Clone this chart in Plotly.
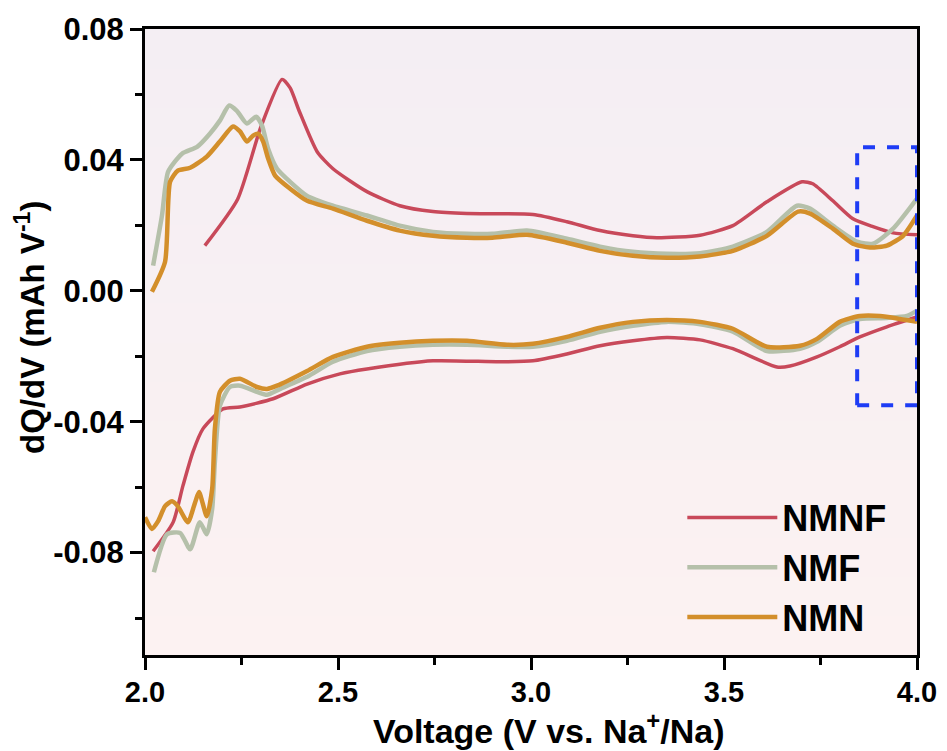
import plotly.graph_objects as go

# ---- data ----
nmnf_chg_v = [2.155, 2.24, 2.30, 2.355, 2.376, 2.40, 2.446, 2.487, 2.575, 2.66, 2.746, 2.834, 3.005, 3.093, 3.179, 3.264, 3.326, 3.438, 3.523, 3.611, 3.702, 3.73, 3.782, 3.834, 3.886, 3.938, 4.0]
nmnf_chg_q = [0.0138, 0.028, 0.050, 0.0646, 0.062, 0.0548, 0.0425, 0.0373, 0.0303, 0.026, 0.0242, 0.0236, 0.0233, 0.0211, 0.0184, 0.0168, 0.0162, 0.0170, 0.0199, 0.0272, 0.0333, 0.0327, 0.0275, 0.022, 0.0196, 0.0177, 0.0171]
nmnf_dis_v = [2.021, 2.073, 2.098, 2.124, 2.15, 2.202, 2.246, 2.332, 2.42, 2.505, 2.575, 2.746, 2.92, 3.005, 3.093, 3.179, 3.264, 3.352, 3.438, 3.523, 3.637, 3.671, 3.741, 3.80, 3.852, 3.922, 4.0]
nmnf_dis_q = [-0.0796, -0.0707, -0.0597, -0.0493, -0.0422, -0.0361, -0.0355, -0.033, -0.0285, -0.0254, -0.0239, -0.0214, -0.0217, -0.0214, -0.0193, -0.0168, -0.0153, -0.0143, -0.0150, -0.0177, -0.0233, -0.023, -0.0202, -0.0171, -0.0141, -0.011, -0.008]

nmf_chg_v = [2.021, 2.044, 2.06, 2.096, 2.135, 2.168, 2.194, 2.218, 2.238, 2.264, 2.288, 2.303, 2.319, 2.342, 2.376, 2.42, 2.487, 2.575, 2.66, 2.746, 2.834, 2.90, 2.99, 3.093, 3.179, 3.264, 3.352, 3.438, 3.523, 3.611, 3.689, 3.723, 3.782, 3.845, 3.886, 3.938, 4.0]
nmf_chg_q = [0.0077, 0.023, 0.0364, 0.0419, 0.044, 0.048, 0.052, 0.0566, 0.055, 0.0511, 0.0532, 0.0505, 0.0434, 0.0373, 0.0333, 0.029, 0.026, 0.023, 0.0199, 0.018, 0.0174, 0.0174, 0.0184, 0.0159, 0.0135, 0.0119, 0.0113, 0.0115, 0.0135, 0.018, 0.026, 0.0251, 0.0199, 0.015, 0.0144, 0.019, 0.0282]
nmf_dis_v = [2.023, 2.057, 2.091, 2.117, 2.142, 2.16, 2.174, 2.181, 2.194, 2.22, 2.246, 2.29, 2.316, 2.35, 2.42, 2.487, 2.575, 2.66, 2.746, 2.834, 2.938, 3.005, 3.093, 3.179, 3.264, 3.352, 3.438, 3.523, 3.611, 3.697, 3.741, 3.80, 3.852, 3.922, 3.974, 4.0]
nmf_dis_q = [-0.086, -0.0744, -0.074, -0.079, -0.0707, -0.0744, -0.0667, -0.0523, -0.0352, -0.0294, -0.029, -0.0309, -0.0318, -0.030, -0.0263, -0.0217, -0.0184, -0.0171, -0.0165, -0.0165, -0.0171, -0.0171, -0.0153, -0.0125, -0.0107, -0.0095, -0.0102, -0.0125, -0.0184, -0.0177, -0.0156, -0.0107, -0.0086, -0.0083, -0.0077, -0.0061]

nmn_chg_v = [2.018, 2.052, 2.065, 2.085, 2.117, 2.16, 2.194, 2.228, 2.246, 2.264, 2.28, 2.293, 2.306, 2.319, 2.337, 2.376, 2.42, 2.487, 2.575, 2.66, 2.746, 2.834, 2.90, 2.99, 3.093, 3.179, 3.264, 3.352, 3.438, 3.523, 3.611, 3.692, 3.723, 3.782, 3.834, 3.878, 3.922, 3.964, 4.0]
nmn_chg_q = [-0.0003, 0.0089, 0.0333, 0.0367, 0.0376, 0.041, 0.0456, 0.0502, 0.0487, 0.0456, 0.0474, 0.048, 0.0456, 0.0404, 0.0352, 0.0312, 0.0275, 0.0251, 0.0214, 0.0184, 0.0168, 0.0162, 0.0162, 0.0171, 0.0147, 0.0122, 0.0107, 0.0101, 0.0105, 0.0122, 0.0168, 0.0242, 0.0236, 0.019, 0.0144, 0.0132, 0.0138, 0.0168, 0.023]
nmn_dis_v = [2.0, 2.018, 2.034, 2.052, 2.07, 2.085, 2.111, 2.13, 2.14, 2.16, 2.174, 2.181, 2.194, 2.22, 2.246, 2.29, 2.316, 2.342, 2.42, 2.487, 2.575, 2.66, 2.746, 2.834, 2.938, 3.005, 3.093, 3.179, 3.264, 3.352, 3.438, 3.523, 3.611, 3.697, 3.741, 3.80, 3.852, 3.904, 3.956, 4.0]
nmn_dis_q = [-0.0692, -0.0728, -0.0704, -0.0658, -0.0643, -0.0658, -0.0707, -0.0646, -0.0615, -0.0689, -0.0606, -0.0422, -0.0309, -0.0275, -0.0269, -0.0294, -0.030, -0.029, -0.0245, -0.0202, -0.0171, -0.0159, -0.0153, -0.0153, -0.0165, -0.0162, -0.0141, -0.0113, -0.0095, -0.0089, -0.0095, -0.0116, -0.0171, -0.0168, -0.0147, -0.0095, -0.0077, -0.0077, -0.0086, -0.0095]

series_names = ["NMNF", "NMF", "NMN"]
series_colors = ["#c8495a", "#b5c0aa", "#d38f2b"]
series_widths = [3.5, 4.5, 4.5]

box_x = [3.845, 4.0]
box_y = [-0.035, 0.0439]

x_range = [2.0, 4.0]
y_range = [-0.1113, 0.08]
x_ticks = [2.0, 2.5, 3.0, 3.5, 4.0]
y_ticks = [-0.08, -0.04, 0.00, 0.04, 0.08]
y_ticklabels = ["-0.08", "-0.04", "0.00", "0.04", "0.08"]

x_title = "<b>Voltage (V vs. Na<sup>+</sup>/Na)</b>"
y_title = "<b>dQ/dV (mAh V<sup>-1</sup>)</b>"

data = [
    (nmnf_chg_v, nmnf_chg_q, nmnf_dis_v, nmnf_dis_q),
    (nmf_chg_v, nmf_chg_q, nmf_dis_v, nmf_dis_q),
    (nmn_chg_v, nmn_chg_q, nmn_dis_v, nmn_dis_q),
]

fig = go.Figure()

# soft vertical background gradient of the plotting area
fig.add_trace(go.Heatmap(
    x=x_range, y=y_range, z=[[0, 0], [1, 1]],
    colorscale=[[0, "#fcf2f2"], [1, "#f4eef3"]],
    zsmooth="best", showscale=False, hoverinfo="skip", showlegend=False,
))

for (cv, cq, dv, dq), name, col, w in zip(data, series_names, series_colors, series_widths):
    fig.add_trace(go.Scatter(
        x=cv + [None] + dv, y=cq + [None] + dq,
        mode="lines", name=name,
        line=dict(color=col, width=w, shape="spline", smoothing=0.6),
        connectgaps=False,
    ))

fig.add_shape(type="rect", x0=box_x[0], x1=box_x[1], y0=box_y[0], y1=box_y[1],
              xref="x", yref="y", line=dict(color="#1e3cf5", width=4, dash="dash"))

font_family = "Arial, Liberation Sans, sans-serif"

fig.add_annotation(text=x_title, xref="paper", yref="paper", x=0.523, y=-0.118,
                   xanchor="center", yanchor="middle", showarrow=False,
                   font=dict(family=font_family, size=34, color="black"))
fig.add_annotation(text=y_title, xref="paper", yref="paper", x=-0.149, y=0.524,
                   xanchor="center", yanchor="middle", showarrow=False, textangle=-90,
                   font=dict(family=font_family, size=33, color="black"))

axis_common = dict(
    showline=True, linecolor="black", linewidth=3, mirror=True,
    ticks="outside", ticklen=12, tickwidth=3, tickcolor="black",
    showgrid=False, zeroline=False, automargin=False,
)

fig.update_layout(
    width=939, height=743,
    margin=dict(l=137, r=30, t=21, b=96),
    paper_bgcolor="white",
    plot_bgcolor="#f8f0f2",
    font=dict(family=font_family, color="black"),
    xaxis=dict(
        range=x_range, tickvals=x_ticks, tickformat=".1f", ticklabelstandoff=-3,
        tickfont=dict(family=font_family, size=29, color="black", weight="bold"),
        minor=dict(dtick=0.25, ticks="outside", ticklen=7, tickwidth=3, tickcolor="black"),
        **axis_common,
    ),
    yaxis=dict(
        range=y_range, tickvals=y_ticks, ticktext=y_ticklabels,
        tickfont=dict(family=font_family, size=31, color="black", weight="bold"),
        minor=dict(dtick=0.02, tick0=0, ticks="outside", ticklen=7, tickwidth=3, tickcolor="black"),
        **axis_common,
    ),
    legend=dict(
        x=0.696, y=0.012, xanchor="left", yanchor="bottom",
        bgcolor="rgba(0,0,0,0)", borderwidth=0,
        font=dict(family=font_family, size=36, color="black", weight="bold"),
        itemwidth=90, tracegroupgap=0,
    ),
)

fig.write_html("out.html")
